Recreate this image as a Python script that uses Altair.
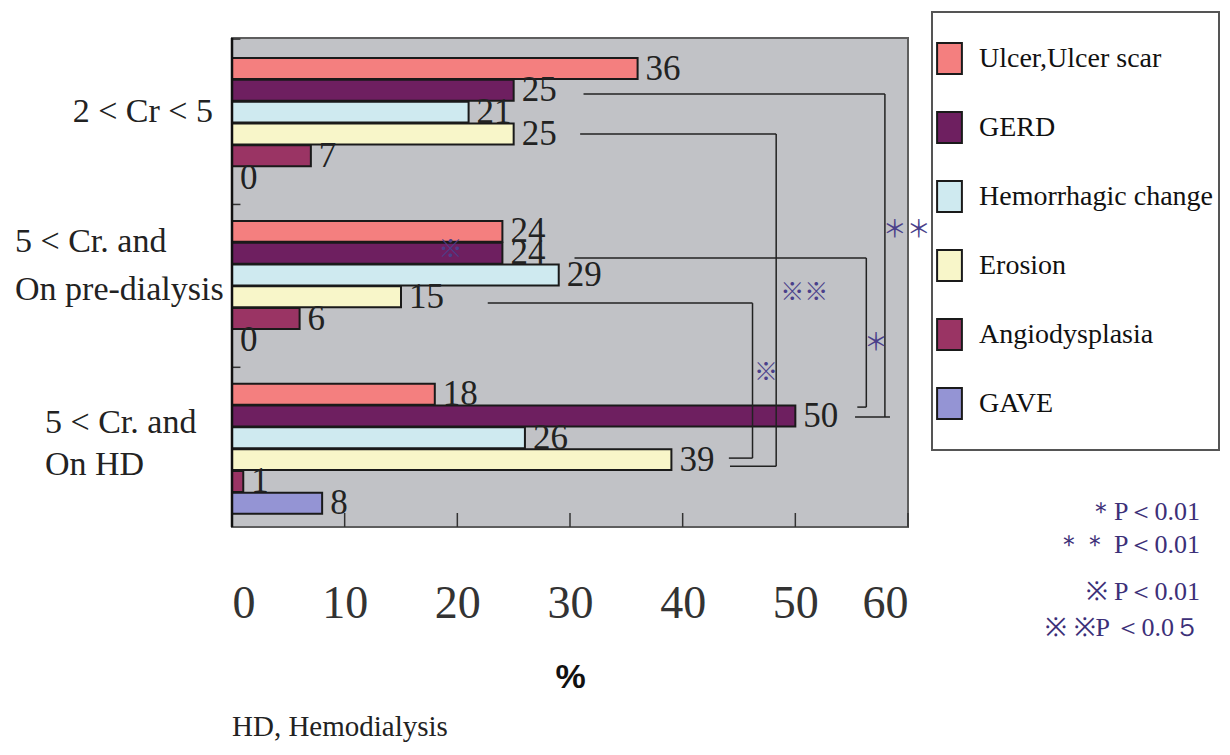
import altair as alt
import pandas as pd

SERIF = "Liberation Serif"
SANS = "Liberation Sans"

# ---------------- data ----------------
groups = ["2 < Cr < 5", "5 < Cr. and\nOn pre-dialysis", "5 < Cr. and\nOn  HD"]
series = ["Ulcer,Ulcer scar", "GERD", "Hemorrhagic change", "Erosion", "Angiodysplasia", "GAVE"]
colors = ["#f47f7f", "#6e1f60", "#cfeaf0", "#f8f6c9", "#9a3464", "#9494d4"]
values_cr2_5 = [36, 25, 21, 25, 7, 0]
values_predialysis = [24, 24, 29, 15, 6, 0]
values_hd = [18, 50, 26, 39, 1, 8]
x_ticks = [0, 10, 20, 30, 40, 50, 60]

# significance brackets: series, from group, to group, start of top line (%), vertical (%), stub start (%), stub end (%)
bracket_series = ["GERD", "Erosion", "GERD", "Erosion"]
bracket_from = [0, 0, 1, 1]
bracket_to = [2, 2, 2, 2]
bracket_xstart = [31.2, 30.9, 30.4, 22.7]
bracket_xvert = [57.95, 48.3, 56.3, 46.2]
bracket_xstub = [55.3, 44.2, 55.5, 44.1]
bracket_xstub_end = [58.4, 48.3, 56.3, 46.2]
bracket_dy_from = [0.17, 0.0, 0.22, 0.29]
bracket_dy_to = [0.05, 0.3, -0.41, -0.07]
bracket_labels = ["＊＊", "※※", "＊", "※", "※"]
bracket_label_x = [59.9, 50.8, 57.15, 47.4, 19.4]
bracket_label_slot = [7.41, 10.3, 12.6, 13.97, 8.33]

notes = ["＊P＜0.01", "＊＊ P＜0.01", "※ P＜0.01", "※ ※P ＜0.0５"]

GROUP_STEP = 7.47   # group pitch measured in bar slots


def slot(g, s):
    return g * GROUP_STEP + s


rows = []
for g, vals in enumerate([values_cr2_5, values_predialysis, values_hd]):
    for s, v in enumerate(vals):
        rows.append(dict(group=groups[g], series=series[s], value=v, slot=slot(g, s), x0=0))
bars_df = pd.DataFrame(rows)

seg_rows = []
for i in range(len(bracket_series)):
    s = series.index(bracket_series[i])
    y1 = slot(bracket_from[i], s) + bracket_dy_from[i]
    y2 = slot(bracket_to[i], s) + bracket_dy_to[i]
    seg_rows.append(dict(xa=bracket_xstart[i], xb=bracket_xvert[i], ya=y1, yb=y1))
    seg_rows.append(dict(xa=bracket_xvert[i], xb=bracket_xvert[i], ya=y1, yb=y2))
    seg_rows.append(dict(xa=bracket_xstub[i], xb=bracket_xstub_end[i], ya=y2, yb=y2))
seg_df = pd.DataFrame(seg_rows)

blab_df = pd.DataFrame(dict(label=bracket_labels, x=bracket_label_x, slot=bracket_label_slot))

tick_df = pd.DataFrame(dict(x=x_ticks[1:]))
bound_df = pd.DataFrame(dict(slot=[-1.35, slot(0, 5) + (GROUP_STEP - 5) / 2, slot(1, 5) + (GROUP_STEP - 5) / 2], x0=0, x1=0.75))

Y_DOMAIN = [-1.40, 21.03]
yscale = alt.Scale(domain=Y_DOMAIN, reverse=True, nice=False, zero=False)
xscale = alt.Scale(domain=[0, 60], nice=False, zero=False)

x_axis = alt.Axis(values=x_ticks, ticks=False, tickSize=0, domain=False, grid=False,
                  labelFont=SERIF, labelFontSize=46, labelColor="#333333",
                  labelBaseline="middle", labelPadding=76,
                  titleFont=SANS, titleFontWeight="bold", titleFontSize=34, titleColor="#111111",
                  titlePadding=34)

# legend frame
frame = alt.Chart(pd.DataFrame(dict(a=[0]))).mark_rect(
    fill="white", stroke="#555555", strokeWidth=2
).encode(x=alt.value(700), x2=alt.value(987), y=alt.value(-26), y2=alt.value(412))

bars = alt.Chart(bars_df).transform_calculate(
    lo="datum.slot - 0.48", hi="datum.slot + 0.48"
).mark_rect(stroke="#1a1a1a", strokeWidth=2).encode(
    x=alt.X("x0:Q", scale=xscale, axis=x_axis, title="%"),
    x2="value:Q",
    y=alt.Y("lo:Q", scale=yscale, axis=None),
    y2="hi:Q",
    color=alt.Color(
        "series:N",
        scale=alt.Scale(domain=series, range=colors),
        legend=alt.Legend(
            orient="none", legendX=701, legendY=4, title=None, padding=0,
            symbolType="M-0.8,-1H0.8V1H-0.8Z", symbolSize=961,
            symbolStrokeColor="#1a1a1a", symbolStrokeWidth=2, symbolOpacity=1,
            labelFont=SERIF, labelFontSize=28, labelColor="#111111", labelLimit=400,
            labelOffset=13, rowPadding=30,
        ),
    ),
)

value_labels = alt.Chart(bars_df).mark_text(
    align="left", baseline="middle", dx=8, font=SERIF, fontSize=35, color="#222222"
).encode(
    x=alt.X("value:Q", scale=xscale, title="%"),
    y=alt.Y("slot:Q", scale=yscale, axis=None),
    text="value:Q",
)

bracket_lines = alt.Chart(seg_df).mark_rule(color="#222222", strokeWidth=1.5).encode(
    x=alt.X("xa:Q", scale=xscale, title="%"),
    x2="xb:Q",
    y=alt.Y("ya:Q", scale=yscale, axis=None),
    y2="yb:Q",
)

bracket_text = alt.Chart(blab_df).mark_text(
    align="center", baseline="middle", font="Noto Sans CJK JP", fontSize=24, color="#4a3f8a"
).encode(
    x=alt.X("x:Q", scale=xscale, title="%"),
    y=alt.Y("slot:Q", scale=yscale, axis=None),
    text="label:N",
)

x_tick_marks = alt.Chart(tick_df).mark_rule(color="#333333", strokeWidth=1.5).encode(
    x=alt.X("x:Q", scale=xscale, title="%"),
    y=alt.value(475), y2=alt.value(489),
)

left_line = alt.Chart(pd.DataFrame(dict(x=[0]))).mark_rule(color="#111111", strokeWidth=2.5).encode(
    x=alt.X("x:Q", scale=xscale, title="%"), y=alt.value(0), y2=alt.value(489)
)

y_bounds = alt.Chart(bound_df).mark_rule(color="#333333", strokeWidth=1.5).encode(
    x=alt.X("x0:Q", scale=xscale, title="%"), x2="x1:Q",
    y=alt.Y("slot:Q", scale=yscale, axis=None),
)

# group labels
cat_layers = []
cat_specs = [
    (0, "right", -19, -11, 42),
    (1, "left", -217, -44, 48),
    (2, "left", -187, -26, 42),
]
for g, align, xpx, dy, lh in cat_specs:
    df = pd.DataFrame(dict(label=[groups[g]], slot=[slot(g, 2.5)]))
    cat_layers.append(
        alt.Chart(df).mark_text(
            align=align, baseline="middle", dy=dy, lineBreak="\n", lineHeight=lh,
            font=SERIF, fontSize=34, color="#222222"
        ).encode(
            x=alt.value(xpx),
            y=alt.Y("slot:Q", scale=yscale, axis=None),
            text="label:N",
        )
    )

footnote = alt.Chart(pd.DataFrame(dict(t=["HD, Hemodialysis"]))).mark_text(
    align="left", baseline="middle", font=SERIF, fontSize=29, color="#222222"
).encode(x=alt.value(0), y=alt.value(689), text="t:N")

note_layers = []
note_y = [474, 507, 554, 590]
for txt, ny in zip(notes, note_y):
    note_layers.append(
        alt.Chart(pd.DataFrame(dict(t=[txt]))).mark_text(
            align="right", baseline="middle", font=SERIF, fontSize=26, color="#3c2f78"
        ).encode(x=alt.value(968), y=alt.value(ny), text="t:N")
    )

chart = alt.layer(
    frame, bars, bracket_lines, value_labels, bracket_text, x_tick_marks, y_bounds, left_line,
    *cat_layers, footnote, *note_layers
).properties(
    width=676, height=489,
    autosize=alt.AutoSizeParams(type="none"),
    padding={"left": 224, "top": 30, "right": 314, "bottom": 216},
    background="white",
).configure_view(
    fill="#c1c2c6", stroke="#5e5e5e", strokeWidth=2
)

chart.save("out.html", embed_options={"renderer": "svg", "actions": False})
